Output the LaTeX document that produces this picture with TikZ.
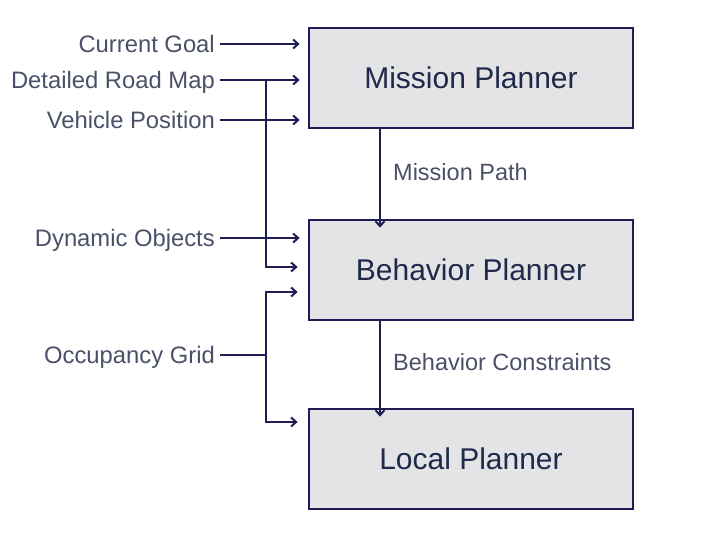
\documentclass[tikz,border=0pt]{standalone}
\usepackage{fontspec}
\setmainfont{Liberation Sans}
\usetikzlibrary{arrows.meta,calc}
\definecolor{navy}{HTML}{1E1E55}
\definecolor{boxfill}{HTML}{E4E4E6}
\definecolor{lbl}{HTML}{4A5068}
\definecolor{boxtxt}{HTML}{1F2A4A}
\tikzset{
  planner/.style={draw=navy, line width=2.8pt, fill=boxfill, minimum width=324pt, minimum height=100pt, inner sep=0pt,
    text=boxtxt, font=\fontsize{30}{31}\selectfont, text height=21.5pt, text depth=0pt},
  inlabel/.style={anchor=east, inner sep=0pt, text=lbl, font=\fontsize{23.8}{24}\selectfont, text height=17pt, text depth=0pt},
  flowlabel/.style={anchor=west, inner sep=0pt, text=lbl, font=\fontsize{23.5}{24}\selectfont, text height=16.8pt, text depth=0pt},
  conn/.style={draw=navy, line width=2.4pt},
  arr/.style={conn, -{Straight Barb[length=5pt, width=9pt, line width=2pt]}},
}
\begin{document}
\begin{tikzpicture}[x=1pt, y=-1pt]
\useasboundingbox (0,0) rectangle (719,539);
\node[planner] (mp) at (471,78) {Mission Planner};
\node[planner] (bp) at (471,270) {Behavior Planner};
\node[planner] (lp) at (471,459) {Local Planner};

\node[inlabel] (cg) at (215,44) {Current Goal};
\node[inlabel] (rm) at (215,80) {Detailed Road Map};
\node[inlabel] (vp) at (215,120) {Vehicle Position};
\node[inlabel] (do) at (215,238) {Dynamic Objects};
\node[inlabel] (og) at (215,355) {Occupancy Grid};

\node[flowlabel] (mpl) at (393,172) {Mission Path};
\node[flowlabel] (bcl) at (393,362) {Behavior Constraints};

\coordinate (rmj) at (266,80);
\coordinate (rmb) at (266,267);
\coordinate (ogj) at (266,355);
\coordinate (ogt) at (266,292);
\coordinate (ogb) at (266,422);
\coordinate (mpo) at (380,128);

\draw[arr] ([xshift=5pt]cg.east) -- ([xshift=-8pt]mp.west |- cg.east);
\draw[arr] ([xshift=5pt]rm.east) -- ([xshift=-8pt]mp.west |- rm.east);
\draw[arr] ([xshift=5pt]vp.east) -- ([xshift=-8pt]mp.west |- vp.east);
\draw[arr] ([xshift=5pt]do.east) -- ([xshift=-8pt]bp.west |- do.east);
\draw[arr] (rmj) -- (rmb) -- ([xshift=-10pt]bp.west |- rmb);
\draw[conn] ([xshift=5pt]og.east) -- (ogj);
\draw[arr] (ogj) -- (ogt) -- ([xshift=-10pt]bp.west |- ogt);
\draw[arr] (ogj) -- (ogb) -- ([xshift=-10pt]lp.west |- ogb);

\draw[arr] (mp.south -| mpo) -- ([yshift=-9pt]bp.north -| mpo);
\draw[arr] (bp.south -| mpo) -- ([yshift=-9pt]lp.north -| mpo);
\end{tikzpicture}
\end{document}
